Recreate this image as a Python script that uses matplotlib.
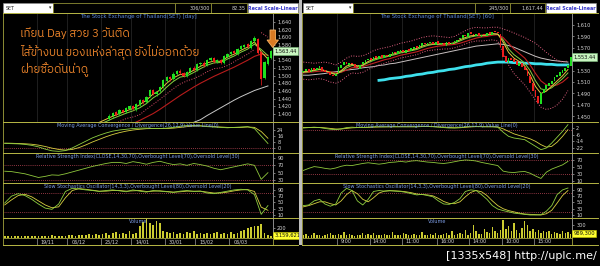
import numpy as np
import matplotlib
matplotlib.use("Agg")
import matplotlib.pyplot as plt
import matplotlib.transforms as mtrans
from matplotlib import font_manager, ft2font
from matplotlib.patches import Rectangle, Polygon

# ======================= LEFT : daily chart =======================
L_N = 80
L_CANDLE_START = 31
L_open = [1388,1394,1404,1399,1411,1405,1414,1421,1411,1424,1437,1431,1446,1463,1451,1459,1471,1487,1497,1491,
          1504,1513,1507,1499,1509,1521,1514,1529,1534,1527,1540,1546,1535,1541,1533,1549,1555,1563,1557,1569,
          1575,1581,1573,1589,1596,1562,1494,1530,1546]
L_high = [1399,1405,1407,1413,1414,1418,1423,1424,1428,1439,1440,1448,1465,1466,1461,1473,1491,1499,1500,1508,
          1515,1516,1510,1511,1523,1524,1533,1536,1537,1544,1548,1549,1543,1544,1553,1559,1565,1566,1573,1579,
          1583,1584,1593,1602,1599,1565,1538,1551,1566]
L_low = [1384,1390,1395,1396,1403,1402,1411,1409,1408,1421,1427,1428,1443,1449,1448,1456,1468,1484,1487,1488,
         1501,1503,1497,1496,1506,1512,1511,1526,1523,1524,1537,1533,1532,1529,1530,1546,1552,1555,1554,1566,
         1572,1571,1570,1586,1557,1475,1490,1527,1543]
L_close = [1395,1402,1398,1410,1406,1415,1420,1412,1425,1436,1430,1445,1462,1452,1458,1470,1488,1496,1490,1505,
           1512,1506,1500,1508,1520,1515,1530,1533,1526,1541,1545,1536,1540,1532,1550,1556,1562,1558,1570,1576,
           1580,1574,1590,1598,1560,1492,1535,1548,1563.44]
# moving averages, one value every 2 bars
L_ema_fast = [1330,1325,1320,1318,1315,1318,1322,1330,1338,1345,1352,1360,1366,1372,1378,1386,1394,1401,1408,1414,
              1424,1436,1452,1462,1480,1494,1503,1504,1514,1524,1533,1538,1537,1548,1556,1566,1574,1588,1562,1543]
L_ema_mid = [1328,1324,1320,1317,1315,1317,1320,1327,1334,1341,1348,1355,1361,1367,1373,1380,1388,1395,1402,1408,
             1416,1427,1442,1453,1470,1485,1496,1499,1508,1518,1527,1533,1534,1543,1551,1561,1569,1582,1568,1552]
L_ma_red = [1280,1282,1284,1286,1288,1290,1293,1297,1302,1307,1313,1319,1325,1331,1338,1345,1352,1360,1367,1375,
            1383,1392,1401,1412,1424,1436,1448,1459,1470,1480,1489,1498,1506,1514,1522,1531,1540,1550,1556,1553]
L_ma_white = [1200,1204,1208,1212,1216,1220,1225,1230,1236,1242,1248,1254,1260,1266,1272,1279,1286,1293,1300,1308,
              1316,1324,1332,1340,1348,1356,1364,1372,1378,1385,1396,1406,1416,1426,1436,1445,1453,1461,1467,1473]
L_sar = [1300,1298,1296,1294,1292,1290,1292,1296,1300,1305,1310,1316,1322,1328,1334,1364,1372,1380,1388,1392,
         1398,1412,1425,1438,1452,1466,1478,1486,1492,1500,1510,1518,1520,1526,1536,1546,1556,1568,1612,1600]
L_macd = [6.0,5.8,5.5,4.8,3.5,1.5,-1.5,-3.8,-4.5,-3.5,0.0,4.5,9.0,13.5,17.0,20.0,22.5,24.0,25.0,26.0,
          26.5,26.5,26.0,26.0,26.5,27.5,29.0,30.0,30.0,29.5,28.5,28.0,27.5,27.0,27.5,28.0,28.5,26.0,16.0,6.0]
L_signal = [6.5,6.3,6.0,5.6,5.0,3.8,2.0,-0.2,-2.0,-2.8,-2.0,0.5,4.0,8.0,11.5,15.0,18.0,20.5,22.5,24.0,
            25.0,25.8,26.0,26.0,26.0,26.5,27.5,28.5,29.3,29.5,29.0,28.5,28.0,27.5,27.3,27.5,28.0,27.5,22.0,13.0]
L_rsi = [54,53,50,47,42,37,40,44,43,47,52,57,62,67,71,75,78,78,75,80,
         77,73,78,81,76,72,74,70,75,72,68,62,58,62,66,70,74,70,32,50]
L_stoch_k = [48,70,78,72,60,45,32,28,45,85,95,93,90,88,85,88,90,87,84,90,
             86,83,88,86,84,82,86,88,85,86,80,78,82,86,90,92,90,75,12,40]
L_stoch_d = [42,58,72,76,68,55,42,33,36,65,88,94,92,89,86,86,88,88,86,87,
             88,85,86,87,85,83,84,86,86,86,83,80,80,83,87,90,91,85,35,25]
L_volume = [45,40,50,42,38,45,48,40,44,50, 42,46,40,48,52,44,50,46,42,55,
            60,50,70,55,65,80,58,90,62,75, 110,70,95,120,80,100,85,140,90,110,
            250,330,380,300,270,340,310,150,120,100, 130,90,110,85,120,95,140,80,100,90,
            110,75,95,120,85,100,90,130,80,110, 140,160,200,230,240,250,280,110,70,50]
L_date_labels = ['19/11', '06/12', '25/12', '14/01', '30/01', '15/02', '06/03']
L_date_idx = [10, 19, 29, 38, 48, 57, 67]
L_price_ticks = [1400, 1420, 1440, 1460, 1480, 1500, 1520, 1540, 1580, 1600, 1620, 1640]
L_macd_ticks = [0, 8, 16, 24]
L_rsi_ticks = [30, 50, 70, 90]
L_stoch_ticks = [10, 30, 50, 70, 90]
L_vol_ticks = [200]
L_last_price = '1,563.44'
L_last_volume = '3,159,621'

# ======================= RIGHT : 60 minute chart =======================
R_N = 100
R_open = [1527,1530,1533,1528,1535,1531,1534,1537,1531,1528, 1527,1523,1520,1525,1535,1540,1546,1540,1544,1541,
          1537,1533,1541,1544,1548,1552,1547,1555,1551,1557, 1552,1558,1554,1558,1563,1560,1563,1567,1561,1568,
          1564,1568,1573,1569,1574,1579,1575,1578,1581,1575, 1582,1576,1579,1574,1581,1576,1579,1581,1585,1587,
          1593,1589,1597,1595,1591,1596,1589,1594,1591,1597, 1593,1599,1598,1595,1573,1556,1544,1553,1550,1547,
          1539,1544,1537,1532,1521,1509,1496,1485,1472,1490, 1497,1503,1507,1511,1518,1521,1526,1530,1534,1539]
R_close = [1530,1532,1528,1535,1531,1534,1538,1530,1527,1526, 1522,1520,1524,1536,1540,1545,1541,1543,1542,1536,
           1534,1540,1545,1549,1551,1548,1554,1552,1556,1553, 1557,1555,1559,1562,1561,1564,1566,1562,1567,1565,
           1569,1572,1570,1575,1578,1576,1579,1580,1576,1581, 1577,1578,1575,1580,1577,1578,1582,1584,1588,1592,
           1590,1596,1594,1592,1595,1590,1593,1592,1596,1594, 1598,1597,1596,1572,1554,1545,1552,1549,1546,1540,
           1543,1536,1531,1520,1508,1495,1484,1473,1491,1498, 1504,1508,1512,1519,1522,1527,1531,1535,1540,1553.44]
R_ema_fast = [1528,1529,1531,1533,1530,1526,1523,1530,1538,1541, 1538,1540,1546,1550,1553,1555,1557,1560,1563,1564,
              1566,1569,1573,1576,1577,1577,1577,1577,1579,1584, 1588,1591,1592,1592,1593,1595,1594,1580,1562,1552,
              1546,1538,1522,1502,1490,1494,1503,1512,1521,1532]
R_ema_mid = [1527,1528,1530,1532,1530,1527,1524,1528,1535,1539, 1538,1539,1544,1548,1551,1553,1556,1558,1561,1563,
             1565,1567,1571,1574,1576,1576,1577,1577,1578,1582, 1586,1589,1591,1591,1592,1594,1594,1584,1568,1558,
             1551,1543,1530,1512,1498,1496,1500,1508,1516,1526]
R_ma_red = [1526,1527,1528,1529,1529,1528,1526,1527,1531,1535, 1536,1537,1540,1543,1546,1549,1551,1554,1557,1559,
            1561,1563,1566,1569,1571,1573,1574,1575,1576,1578, 1581,1584,1587,1589,1590,1592,1593,1588,1578,1568,
            1560,1552,1540,1525,1512,1505,1503,1505,1510,1518]
R_band_up = [1545,1544,1543,1544,1545,1543,1540,1545,1552,1556, 1555,1556,1560,1565,1568,1570,1572,1575,1578,1580,
             1582,1585,1588,1590,1591,1590,1589,1588,1590,1595, 1600,1604,1606,1605,1605,1606,1606,1603,1600,1596,
             1592,1588,1583,1578,1570,1562,1555,1548,1545,1547]
R_band_dn = [1515,1514,1515,1516,1514,1510,1508,1512,1520,1526, 1525,1527,1532,1536,1540,1543,1546,1549,1552,1554,
             1556,1558,1562,1565,1566,1567,1568,1568,1570,1573, 1577,1580,1582,1582,1583,1584,1582,1560,1540,1525,
             1515,1505,1492,1478,1466,1462,1464,1470,1480,1495]
R_ma_grey = [1522,1522,1523,1524,1525,1527,1528,1529,1531,1532, 1533,1535,1536,1537,1539,1540,1542,1543,1545,1547,
             1549,1551,1553,1555,1557,1559,1561,1563,1565,1567, 1569,1571,1573,1574,1575,1576,1577,1576,1574,1571,
             1567,1563,1559,1555,1552,1550,1548,1547,1546,1545]
R_CYAN_START = 28
R_ma_cyan = [1513,1514,1516,1517,1518,1520,1521,1523,1524,1526, 1527,1529,1530,1532,1533,1535,1537,1538,1540,1541,
             1543,1544,1545,1545,1545,1544,1544,1543,1543,1542, 1542,1541,1541,1540,1540,1540]
R_macd = [2,2.5,3,2.5,1.5,0.5,0,1,2.5,3, 2.5,2.5,3,3.5,3.5,3.5,3.5,3.5,3.5,3.5,
          3.5,3.5,4,4,3.5,3,2.5,2,2,2.5, 3.5,4,4,3.5,3.5,3.5,3,-3,-8,-10,
          -11,-12,-16,-20,-24,-22,-16,-9,-2,6]
R_signal = [2.5,2.5,2.7,2.7,2.2,1.5,0.8,0.8,1.5,2.2, 2.5,2.5,2.7,3,3.2,3.3,3.4,3.5,3.5,3.5,
            3.5,3.5,3.7,3.8,3.7,3.4,3,2.6,2.3,2.3, 2.8,3.3,3.6,3.6,3.5,3.5,3.3,1,-2,-5,
            -7,-9,-11,-14,-18,-21,-20,-15,-8,0]
R_rsi = [40,46,51,49,46,44,47,52,55,54, 57,60,62,60,58,60,63,64,66,64,
         67,68,66,64,63,61,60,62,65,68, 70,69,67,63,60,57,54,38,35,34,
         36,37,32,24,17,35,44,50,56,66]
R_stoch_k = [40,42,55,60,45,38,45,80,95,88, 55,42,60,85,88,86,88,86,85,82,
             78,74,76,72,68,55,45,44,50,62, 85,90,88,75,60,40,29,24,20,16,
             14,12,10,10,11,22,40,75,90,96]
R_stoch_d = [36,40,46,52,52,46,42,55,75,88, 78,60,52,65,80,86,87,87,86,84,
             81,77,75,74,71,63,53,47,46,52, 68,82,88,84,72,55,40,30,24,20,
             16,13,12,11,10,14,25,48,72,88]
R_volume = [60,90,50,70,110,60,80,50,70,90, 120,70,60,100,80,140,60,90,70,50,
            80,60,110,70,90,60,120,80,70,60, 90,70,60,130,80,60,70,110,90,60,
            80,100,60,70,140,80,60,90,70,120, 80,60,90,110,70,160,80,100,120,90,
            180,70,120,300,150,100,90,200,140,110, 260,160,120,180,420,200,270,150,350,180,
            120,230,390,300,160,200,140,180,110,150, 130,170,100,140,120,90,160,110,130,100]
R_date_labels = ['9:00', '14:00', '11:00', '16:00', '14:00', '10:00', '15:00']
R_date_idx = [13, 25, 37, 50, 62, 74, 86]
R_price_ticks = [1450, 1470, 1490, 1510, 1530, 1570, 1590, 1610]
R_macd_ticks = [-22, -14, -6, 2]
R_rsi_ticks = [10, 30, 50, 70]
R_stoch_ticks = [10, 30, 50, 70, 90]
R_vol_ticks = [300]
R_last_price = '1,553.44'
R_last_volume = '989,300'

# ======================= fonts =======================
def find_font_with(chars):
    seen = set()
    pref = []
    other = []
    for f in font_manager.fontManager.ttflist:
        if f.fname in seen:
            continue
        seen.add(f.fname)
        try:
            cmap = ft2font.FT2Font(f.fname).get_charmap()
        except Exception:
            continue
        if all(ord(ch) in cmap for ch in chars):
            (pref if 'Thai' in f.name else other).append(f.name)
    allf = pref + other
    return allf[0] if allf else None

THAI = find_font_with('เทียนวันติด')
THAI_FAM = [THAI, 'DejaVu Sans'] if THAI else ['DejaVu Sans']

# ======================= drawing =======================
W, H = 600, 266
fig = plt.figure(figsize=(6, 2.66), dpi=100, facecolor='black')

OLIVE = '#8c8c34'
SEP = '#b4b444'
LABEL = '#d6d6d6'
TITLE = '#5a86d8'
ITITLE = '#7c9ce4'
DOT = '#c04858'


def add_px(x0, y0, x1, y1, z=1):
    return fig.add_axes([x0 / W, 1 - y1 / H, (x1 - x0) / W, (y1 - y0) / H], zorder=z)


def style(ax, xlim, ylim, yticks, fmt):
    ax.set_facecolor('black')
    ax.set_xlim(*xlim)
    ax.set_ylim(*ylim)
    ax.set_xticks([])
    ax.yaxis.tick_right()
    ax.set_yticks(yticks)
    ax.set_yticklabels([fmt(v) for v in yticks])
    ax.tick_params(axis='y', colors=LABEL, labelsize=3.6, length=1.5, width=0.4, pad=1.5)
    for s in ax.spines.values():
        s.set_color(OLIVE)
        s.set_linewidth(0.7)
    ax.spines['right'].set_color('#8a8a8a')


def candles(ax, idx, o, h, l, c):
    o = np.asarray(o, float)
    c = np.asarray(c, float)
    col = np.where(c >= o, '#1fe01f', '#f01c1c')
    if h is not None:
        ax.vlines(idx, l, h, colors=col, lw=0.5, zorder=4)
    ax.bar(idx, np.maximum(np.abs(c - o), 0.9), bottom=np.minimum(o, c), width=0.66,
           color=col, lw=0, zorder=4)


def build_side(cfg):
    x0, x1 = cfg['x0'], cfg['x1']
    n = cfg['n']
    xlim = (-0.5, n - 0.5)
    xs2 = np.arange(0, n, 2)
    bars = np.arange(n)
    sep = np.asarray(cfg['date_idx']) - 0.5

    # ---- main price panel
    ax = add_px(x0, 13, x1, 122)
    style(ax, xlim, cfg['ylim_main'], cfg['price_ticks'], lambda v: f'{v:,.0f}')
    for s in sep:
        ax.axvline(s, color='#2c2c2c', lw=0.5, zorder=1)
    for line in cfg['main_lines']:
        xv = line.get('x', xs2)
        ax.plot(xv, line['y'], color=line['c'], lw=line['lw'], ls=line.get('ls', '-'), zorder=line.get('z', 3))
    candles(ax, cfg['cidx'], cfg['open'], cfg['high'], cfg['low'], cfg['close'])
    ax.text(0.5, 0.965, cfg['title'], transform=ax.transAxes, ha='center', va='center',
            color=TITLE, fontsize=3.9)
    tr = mtrans.blended_transform_factory(ax.transAxes, ax.transData)
    ax.text(1.005, cfg['close'][-1], cfg['last_price'], transform=tr, ha='left', va='center',
            fontsize=3.7, color='#101010', zorder=20, clip_on=False,
            bbox=dict(boxstyle='square,pad=0.25', fc='#c8f5c0', ec='#7fbf7f', lw=0.4))

    # ---- MACD
    ax = add_px(x0, 122, x1, 153)
    style(ax, xlim, cfg['ylim_macd'], cfg['macd_ticks'], lambda v: f'{v:g}')
    ax.axhline(0, color=DOT, lw=0.6, ls=(0, (1, 1.5)))
    ax.plot(xs2, cfg['signal'], color='#d8d040', lw=0.6)
    ax.plot(xs2, cfg['macd'], color='#8fd040', lw=0.6)
    ax.text(0.5, 0.88, 'Moving Average Convergence / Divergence(26,12,9),Value Line(0)',
            transform=ax.transAxes, ha='center', va='center', color=ITITLE, fontsize=3.5)

    # ---- RSI
    ax = add_px(x0, 153, x1, 183)
    style(ax, xlim, cfg['ylim_rsi'], cfg['rsi_ticks'], lambda v: f'{v:g}')
    for lv in (70, 30):
        ax.axhline(lv, color=DOT, lw=0.6, ls=(0, (1, 1.5)))
    ax.plot(xs2, cfg['rsi'], color='#8fc83c', lw=0.6)
    ax.text(0.5, 0.87, 'Relative Strength Index(CLOSE,14,30,70),Overbought Level(70),Oversold Level(30)',
            transform=ax.transAxes, ha='center', va='center', color=ITITLE, fontsize=3.5)

    # ---- Stochastic
    ax = add_px(x0, 183, x1, 218)
    style(ax, xlim, (0.4, 112), cfg['stoch_ticks'], lambda v: f'{v:g}')
    for lv in (80, 20):
        ax.axhline(lv, color=DOT, lw=0.6, ls=(0, (1, 1.5)))
    ax.plot(xs2, cfg['stoch_d'], color='#d8d040', lw=0.6)
    ax.plot(xs2, cfg['stoch_k'], color='#8fd040', lw=0.6)
    ax.text(0.5, 0.9, 'Slow Stochastics Oscillator(14,3,3),Overbought Level(80),Oversold Level(20)',
            transform=ax.transAxes, ha='center', va='center', color=ITITLE, fontsize=3.5)

    # ---- Volume
    ax = add_px(x0, 218, x1, 238)
    style(ax, xlim, cfg['ylim_vol'], cfg['vol_ticks'], lambda v: f'{v:g}')
    ax.bar(bars, cfg['volume'], width=0.55, color='#cccc30', lw=0)
    ax.text(0.5, 0.82, 'Volume', transform=ax.transAxes, ha='center', va='center',
            color=ITITLE, fontsize=3.5)
    tr = mtrans.blended_transform_factory(ax.transAxes, ax.transData)
    ax.text(1.005, cfg['volume'][-1], cfg['last_volume'], transform=tr, ha='left', va='center',
            fontsize=3.7, color='#101010', zorder=20, clip_on=False,
            bbox=dict(boxstyle='square,pad=0.25', fc='#ffff30', ec='#c8c800', lw=0.4))

    # ---- date row
    ax = add_px(x0, 238, x1, 245)
    ax.set_facecolor('black')
    ax.set_xlim(*xlim)
    ax.set_ylim(0, 1)
    ax.set_xticks([])
    ax.set_yticks([])
    for s in ax.spines.values():
        s.set_color(OLIVE)
        s.set_linewidth(0.7)
    for s, lab in zip(sep, cfg['date_labels']):
        ax.axvline(s, color='#9a9a9a', lw=0.5)
        ax.text(s + 1.2, 0.45, lab, ha='left', va='center', color=LABEL, fontsize=3.5)


left_cfg = dict(
    x0=3, x1=273, n=L_N, date_idx=L_date_idx, date_labels=L_date_labels,
    ylim_main=(1379, 1663), price_ticks=L_price_ticks,
    main_lines=[
        dict(y=L_ma_white, c='#c8c8c8', lw=0.7),
        dict(y=L_ma_red, c='#b81c1c', lw=0.8),
        dict(y=L_sar[:-2], x=np.arange(0, L_N, 2)[:-2], c='#e0506c', lw=0.7, ls=(0, (1, 1.6))),
        dict(y=L_sar[-2:], x=np.arange(0, L_N, 2)[-2:], c='#e0506c', lw=0.7, ls=(0, (1, 1.6))),
        dict(y=L_ema_mid, c='#86d040', lw=0.7),
        dict(y=L_ema_fast, c='#e8c040', lw=0.7),
    ],
    cidx=np.arange(L_CANDLE_START, L_CANDLE_START + len(L_close)),
    open=L_open, high=L_high, low=L_low, close=L_close,
    title='The Stock Exchange of Thailand(SET) [day]', last_price=L_last_price,
    ylim_macd=(-6.7, 34.7), macd_ticks=L_macd_ticks, macd=L_macd, signal=L_signal,
    ylim_rsi=(22, 103.5), rsi_ticks=L_rsi_ticks, rsi=L_rsi,
    stoch_ticks=L_stoch_ticks, stoch_k=L_stoch_k, stoch_d=L_stoch_d,
    ylim_vol=(0, 400), vol_ticks=L_vol_ticks, volume=L_volume, last_volume=L_last_volume,
)

right_cfg = dict(
    x0=302, x1=572, n=R_N, date_idx=R_date_idx, date_labels=R_date_labels,
    ylim_main=(1440, 1631), price_ticks=R_price_ticks,
    main_lines=[
        dict(y=R_ma_grey, c='#c8c0c0', lw=0.7),
        dict(y=R_ma_cyan, x=np.arange(R_CYAN_START, R_N, 2), c='#3ee0ec', lw=2.0),
        dict(y=R_band_up, c='#e06080', lw=0.7, ls=(0, (1, 1.6))),
        dict(y=R_band_dn, c='#e06080', lw=0.7, ls=(0, (1, 1.6))),
        dict(y=R_ma_red, c='#c02020', lw=0.8),
        dict(y=R_ema_mid, c='#86d040', lw=0.7),
        dict(y=R_ema_fast, c='#e8c040', lw=0.7),
    ],
    cidx=np.arange(R_N), open=R_open, high=None, low=None, close=R_close,
    title='The Stock Exchange of Thailand(SET) [60]', last_price=R_last_price,
    ylim_macd=(-28, 9.2), macd_ticks=R_macd_ticks, macd=R_macd, signal=R_signal,
    ylim_rsi=(4, 90), rsi_ticks=R_rsi_ticks, rsi=R_rsi,
    stoch_ticks=R_stoch_ticks, stoch_k=R_stoch_k, stoch_d=R_stoch_d,
    ylim_vol=(0, 460), vol_ticks=R_vol_ticks, volume=R_volume, last_volume=R_last_volume,
)

build_side(left_cfg)
build_side(right_cfg)

# ======================= decorations (pixel overlay) =======================
deco = fig.add_axes([0, 0, 1, 1], zorder=30)
deco.set_xlim(0, W)
deco.set_ylim(H, 0)
deco.axis('off')
deco.patch.set_alpha(0)

# grey divider between the two windows
deco.add_patch(Rectangle((298.5, 0), 3, 245, fc='#bdbdbd', ec='none'))

# top tool bars
def topbar(x0, boxes, counter, value):
    deco.add_patch(Rectangle((x0, 3.3), 50, 9.5, fc='white', ec='#909090', lw=0.4))
    deco.text(x0 + 3, 8, 'SET', fontsize=3.4, color='#202020', va='center', ha='left')
    deco.text(x0 + 47, 8, '▾', fontsize=3.4, color='#202020', va='center', ha='center')
    for (a, b) in boxes:
        deco.add_patch(Rectangle((a, 3.3), b - a, 9.5, fc='black', ec=OLIVE, lw=0.6))
    deco.text(boxes[1][1] - 1.5, 8, counter, fontsize=3.5, color=LABEL, va='center', ha='right')
    deco.text(boxes[2][1] - 1.5, 8, value, fontsize=3.5, color=LABEL, va='center', ha='right')
    rx = boxes[2][1] + 1
    deco.add_patch(Rectangle((rx, 3.3), 50, 9.5, fc='white', ec='#909090', lw=0.4))
    deco.text(rx + 25, 8, 'Recal Scale-Linear', fontsize=3.4, color='#3434c8', va='center',
              ha='center', fontweight='bold')

topbar(3, [(53, 175), (175, 211), (211, 247)], '306/300', '82.35')
topbar(303, [(353, 475), (475, 510), (510, 545)], '245/300', '1,617.44')

# panel separator lines across the label column
for yy in (13, 122, 153, 183, 218, 245):
    deco.plot([3, 298], [yy, yy], color=SEP, lw=0.7)
    deco.plot([302, 598], [yy, yy], color=SEP, lw=0.7)

# Thai annotation
TH = '#e8822a'
deco.text(20, 33, 'เทียน Day สวย 3 วันติด', family=THAI_FAM, fontsize=8.3, color=TH,
          style='italic', va='center', ha='left')
deco.text(20, 52, 'ไส้ข้างบน ของแห่งล่าสุด ยังไม่ออกด้วย', family=THAI_FAM, fontsize=8.3, color=TH,
          style='italic', va='center', ha='left')
deco.text(20, 70, 'ฝ่ายซื้อดันน่าดู', family=THAI_FAM, fontsize=8.3, color=TH,
          style='italic', va='center', ha='left')

# orange down arrow
deco.add_patch(Polygon([[270, 30], [275.5, 30], [275.5, 40], [278.5, 40], [272.7, 47.5],
                        [267, 40], [270, 40]], closed=True, fc='#d87a24', ec='#f5b060', lw=0.6))

# watermark, scaled so it spans about 151 px like the reference
wm = deco.text(597, 256, '[1335x548] http://uplc.me/', ha='right', va='center', color='white',
               fontsize=9.0, family='DejaVu Sans')
renderer = fig.canvas.get_renderer()
wm_w = wm.get_window_extent(renderer=renderer).width
if wm_w > 0:
    wm.set_fontsize(9.0 * 151.0 / wm_w)

fig.savefig('out.png', dpi=100, facecolor='black')
